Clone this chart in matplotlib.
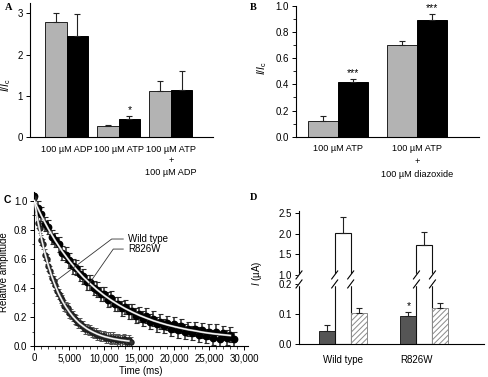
import matplotlib
matplotlib.use('Agg')
import matplotlib.pyplot as plt
import numpy as np
from matplotlib.ticker import MultipleLocator, FuncFormatter

plt.rcParams['font.family'] = ['Liberation Sans', 'DejaVu Sans']
plt.rcParams['font.size'] = 7
plt.rcParams['axes.linewidth'] = 0.8
plt.rcParams['hatch.linewidth'] = 0.7
plt.rcParams['mathtext.fontset'] = 'custom'
plt.rcParams['mathtext.rm'] = 'Liberation Sans'
plt.rcParams['mathtext.it'] = 'Liberation Sans:italic'

# --- DATA ---
# panel A
a_labels = ['100 µM ADP', '100 µM ATP', '100 µM ATP\n+\n100 µM ADP']
a_gray = [2.79, 0.27, 1.12]
a_gray_err = [0.23, 0.03, 0.23]
a_black = [2.44, 0.43, 1.15]
a_black_err = [0.54, 0.07, 0.45]
a_stars = ['', '*', '']

# panel B
b_labels = ['100 µM ATP', '100 µM ATP\n+\n100 µM diazoxide']
b_gray = [0.122, 0.704]
b_gray_err = [0.036, 0.026]
b_black = [0.416, 0.895]
b_black_err = [0.023, 0.041]
b_stars = ['***', '***']

# panel C (relative amplitude, sampled every 250 ms / 500 ms)
wt_amp = [1.02, 0.94, 0.85, 0.81, 0.73, 0.70, 0.63, 0.60, 0.55, 0.52,
          0.47, 0.45, 0.42, 0.38, 0.36, 0.33, 0.32, 0.28, 0.27, 0.26,
          0.23, 0.22, 0.21, 0.19, 0.18, 0.16, 0.16, 0.14, 0.14, 0.12,
          0.12, 0.11, 0.11, 0.10, 0.09, 0.09, 0.08, 0.08, 0.07, 0.07,
          0.07, 0.06, 0.06, 0.06, 0.05, 0.06, 0.05, 0.04, 0.05, 0.04,
          0.04, 0.05, 0.04, 0.03, 0.04, 0.03]
wt_t = np.arange(0, 14000, 250)
wt_err = 0.035
r826w_amp = [1.03, 0.95, 0.91, 0.84, 0.82, 0.75, 0.73, 0.70, 0.64, 0.63,
             0.59, 0.55, 0.54, 0.50, 0.48, 0.44, 0.44, 0.40, 0.39, 0.36,
             0.36, 0.32, 0.33, 0.29, 0.29, 0.26, 0.27, 0.24, 0.24, 0.21,
             0.22, 0.19, 0.21, 0.17, 0.19, 0.15, 0.17, 0.14, 0.16, 0.12,
             0.15, 0.11, 0.14, 0.10, 0.12, 0.09, 0.12, 0.08, 0.11, 0.07,
             0.10, 0.06, 0.10, 0.05, 0.09, 0.06, 0.08, 0.05]
r826w_t = np.arange(0, 29000, 500)
r826w_err = 0.05
wt_fit = [1.000, 0.862, 0.744, 0.642, 0.555, 0.480, 0.415, 0.359, 0.312, 0.271,
          0.236, 0.205, 0.179, 0.156, 0.138, 0.121, 0.107, 0.095, 0.084, 0.075,
          0.067, 0.061, 0.055, 0.050, 0.046, 0.042, 0.039, 0.036]
wt_fit_t = np.arange(0, 14000, 500)
r826w_fit = [1.000, 0.898, 0.807, 0.725, 0.652, 0.587, 0.528, 0.475, 0.429, 0.387,
             0.349, 0.316, 0.286, 0.259, 0.235, 0.213, 0.194, 0.176, 0.161, 0.147,
             0.135, 0.124, 0.114, 0.106, 0.097, 0.090, 0.084, 0.079, 0.074]
r826w_fit_t = np.arange(0, 29000, 1000)

# panel D
d_labels = ['Wild type', 'R826W']
d_dark = [0.042, 0.094]
d_dark_err = [0.021, 0.013]
d_white = [2.02, 1.72]
d_white_err = [0.37, 0.33]
d_hatch = [0.102, 0.121]
d_hatch_err = [0.019, 0.016]
d_stars = ['', '*']

W, H = 488, 377
fig = plt.figure(figsize=(W / 100, H / 100), dpi=100)


def px_axes(left, top, right, bottom):
    return fig.add_axes([left / W, 1 - bottom / H, (right - left) / W, (bottom - top) / H])


def style(ax):
    for s in ['top', 'right']:
        ax.spines[s].set_visible(False)
    ax.tick_params(axis='y', direction='out', length=3, width=0.7, pad=2)
    ax.tick_params(axis='x', length=0, labelsize=6.6)


LIGHT = '#b3b3b3'
err_kw = dict(ecolor='#222222', elinewidth=0.8, capsize=2.5, capthick=0.8)

# --- A ---
ax = px_axes(30, 2.7, 213, 137)
style(ax)
a_x = np.arange(len(a_labels)) * 2.42 + 1.7
ax.bar(a_x - 0.5, a_gray, 1.0, color=LIGHT, edgecolor='#222222', lw=0.7,
       yerr=[np.zeros(len(a_gray)), a_gray_err], error_kw=err_kw)
ax.bar(a_x + 0.5, a_black, 1.0, color='black', edgecolor='black', lw=0.7,
       yerr=[np.zeros(len(a_black)), a_black_err], error_kw=err_kw)
for x, v, e, s in zip(a_x + 0.5, a_black, a_black_err, a_stars):
    ax.text(x, v + e + 0.03, s, ha='center', va='bottom', fontsize=7.5)
ax.set_xlim(0, 8.5)
ax.set_ylim(0, 3.26)
ax.set_yticks([0, 1, 2, 3])
ax.set_xticks(a_x)
ax.set_xticklabels(a_labels, linespacing=1.35)
ax.tick_params(axis='x', pad=5.5)
ax.set_ylabel(r'$I/I_\mathrm{c}$', fontsize=7.5)
ax.yaxis.set_label_coords(-0.093, 0.387)

# --- B ---
ax = px_axes(295.7, 6, 479, 136.7)
style(ax)
b_x = np.arange(len(b_labels)) * 2.64 + 1.41
ax.bar(b_x - 0.5, b_gray, 1.0, color=LIGHT, edgecolor='#222222', lw=0.7,
       yerr=[np.zeros(len(b_gray)), b_gray_err], error_kw=err_kw)
ax.bar(b_x + 0.5, b_black, 1.0, color='black', edgecolor='black', lw=0.7,
       yerr=[np.zeros(len(b_black)), b_black_err], error_kw=err_kw)
for x, v, e, s in zip(b_x + 0.5, b_black, b_black_err, b_stars):
    ax.text(x, v + e + 0.01, s, ha='center', va='bottom', fontsize=7.5)
ax.set_xlim(0, 6.1)
ax.set_ylim(0, 1.0)
ax.yaxis.set_major_locator(MultipleLocator(0.2))
ax.yaxis.set_minor_locator(MultipleLocator(0.1))
ax.tick_params(axis='y', which='minor', direction='out', length=2, width=0.6)
ax.yaxis.set_major_formatter(FuncFormatter(lambda v, p: f'{v:.1f}'))
ax.set_xticks(b_x)
ax.set_xticklabels(b_labels, linespacing=1.55)
ax.tick_params(axis='x', pad=5.5)
ax.set_ylabel(r'$I/I_\mathrm{c}$', fontsize=7.5)
ax.yaxis.set_label_coords(-0.146, 0.526)

# --- C ---
ax = px_axes(34.3, 192, 247.8, 346.3)
style(ax)
ax.tick_params(axis='x', direction='out', length=3, width=0.7, pad=2, labelsize=7)
ax.errorbar(r826w_t, r826w_amp, yerr=r826w_err, fmt='o', ms=4.6, color='black',
            ecolor='#2a2a2a', elinewidth=1.1, capsize=1.8, capthick=0.8, zorder=2)
ax.errorbar(wt_t, wt_amp, yerr=wt_err, fmt='o', ms=3.6, color='#1e1e1e', mfc='#333333',
            ecolor='#555555', elinewidth=0.9, capsize=1.6, capthick=0.7, zorder=2)
for t, f in [(r826w_fit_t, r826w_fit), (wt_fit_t, wt_fit)]:
    ax.plot(t, f, color='#999999', lw=1.5, zorder=3)
    ax.plot(t, f, color='white', lw=0.8, zorder=4)
ax.plot([12710, 11053, 2953], [0.737, 0.737, 0.444], color='#333333', lw=0.6, zorder=5)
ax.plot([12710, 11281, 7710], [0.668, 0.668, 0.421], color='#333333', lw=0.6, zorder=5)
ax.text(13381, 0.737, 'Wild type', va='center', fontsize=7)
ax.text(13381, 0.668, 'R826W', va='center', fontsize=7)
ax.set_xlim(0, 30500)
ax.set_ylim(0, 1.06)
ax.xaxis.set_major_locator(MultipleLocator(5000))
ax.xaxis.set_minor_locator(MultipleLocator(1000))
ax.xaxis.set_major_formatter(FuncFormatter(lambda v, p: f'{v:,.0f}'))
ax.yaxis.set_major_locator(MultipleLocator(0.2))
ax.yaxis.set_minor_locator(MultipleLocator(0.1))
ax.yaxis.set_major_formatter(FuncFormatter(lambda v, p: f'{v:.1f}'))
ax.tick_params(which='minor', direction='out', length=1.8, width=0.5)
ax.set_xlabel('Time (ms)', labelpad=2)
ax.set_ylabel('Relative amplitude')
ax.yaxis.set_label_coords(-0.118, 0.48)

# --- D (broken axis) ---
ax = px_axes(299, 211.3, 484, 343.7)
style(ax)


def d_fwd(y):
    y = np.asarray(y, dtype=float)
    return np.where(y <= 0.2, y * 298.5,
                    np.where(y <= 1.0, 59.7 + (y - 0.2) * 11.25, 68.7 + (y - 1.0) * 41.3))


def d_inv(v):
    v = np.asarray(v, dtype=float)
    return np.where(v <= 59.7, v / 298.5,
                    np.where(v <= 68.7, 0.2 + (v - 59.7) / 11.25, 1.0 + (v - 68.7) / 41.3))


ax.set_yscale('function', functions=(d_fwd, d_inv))
d_x = np.array([2.73, 7.84])
ax.bar(d_x - 1, d_dark, 1.0, color='#555555', edgecolor='#222222', lw=0.7,
       yerr=[np.zeros(2), d_dark_err], error_kw=err_kw)
ax.bar(d_x, d_white, 1.0, color='white', edgecolor='#111111', lw=0.8,
       yerr=[np.zeros(2), d_white_err], error_kw=err_kw)
ax.bar(d_x + 1, d_hatch, 1.0, color='white', edgecolor='#8a8a8a', lw=0.7, hatch='//////',
       yerr=[np.zeros(2), d_hatch_err], error_kw=err_kw)
for x, v, e, s in zip(d_x - 1, d_dark, d_dark_err, d_stars):
    ax.text(x, v + e + 0.003, s, ha='center', va='bottom', fontsize=7.5)
ax.set_xlim(0, 11.56)
ax.set_ylim(0, 2.54)
ax.set_yticks([0.0, 0.1, 0.2, 1.0, 1.5, 2.0, 2.5])
ax.yaxis.set_major_formatter(FuncFormatter(lambda v, p: f'{v:.1f}'))
ax.set_xticks(d_x - np.array([0, 0.5]))
ax.set_xticklabels(d_labels, fontsize=7)
ax.tick_params(axis='x', pad=8)
ax.set_ylabel(r'$I$ (µA)')
ax.yaxis.set_label_coords(-0.189, 0.534)

# break marks on the axis and on the white bars
inv = fig.transFigure.inverted()
for x in [0.0, d_x[0] - 0.5, d_x[0] + 0.5, d_x[1] - 0.5, d_x[1] + 0.5]:
    ax.plot([x, x], [0.2, 1.0], color='white', lw=2.5, clip_on=False, zorder=6)
    for yv in [0.2, 1.0]:
        px, py = ax.transData.transform((x, yv))
        p0 = inv.transform((px - 3, py - 4))
        p1 = inv.transform((px + 3, py + 4))
        fig.add_artist(plt.Line2D([p0[0], p1[0]], [p0[1], p1[1]], color='black',
                                  lw=0.8, transform=fig.transFigure))

# panel letters
fig.text(5 / W, 1 - 7 / H, 'A', fontsize=7.5, fontweight='bold', family='Liberation Serif', va='center')
fig.text(250 / W, 1 - 7 / H, 'B', fontsize=7.5, fontweight='bold', family='Liberation Serif', va='center')
fig.text(4 / W, 1 - 200 / H, 'C', fontsize=7.5, fontweight='bold', va='center')
fig.text(250 / W, 1 - 198 / H, 'D', fontsize=7.5, fontweight='bold', family='Liberation Serif', va='center')

fig.savefig('out.png', dpi=100)
